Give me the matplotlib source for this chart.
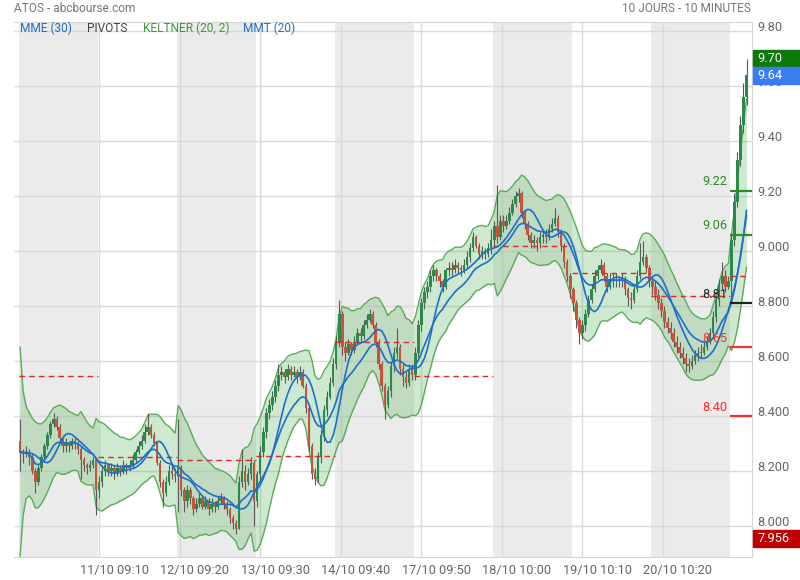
import numpy as np
import pandas as pd
import matplotlib
matplotlib.use("Agg")
import matplotlib.pyplot as plt
from matplotlib.patches import Rectangle
from matplotlib.transforms import blended_transform_factory, ScaledTranslation

plt.rcParams['font.family'] = ['Roboto', 'DejaVu Sans']

# bougies de 20 minutes, une liste par jour
first_open = 8.31
close_days = [
    [8.27, 8.26, 8.27, 8.25, 8.20, 8.16, 8.21, 8.25, 8.29, 8.33, 8.37, 8.39, 8.36, 8.32, 8.29, 8.30, 8.29, 8.31, 8.30, 8.28, 8.24, 8.22, 8.21, 8.22, 8.24, 8.13],
    [8.16, 8.20, 8.22, 8.20, 8.21, 8.19, 8.21, 8.20, 8.22, 8.21, 8.22, 8.24, 8.27, 8.29, 8.31, 8.34, 8.36, 8.33, 8.30, 8.23, 8.16, 8.12, 8.16, 8.20, 8.19, 8.18],
    [8.21, 8.13, 8.09, 8.13, 8.10, 8.06, 8.08, 8.10, 8.07, 8.09, 8.06, 8.08, 8.07, 8.09, 8.10, 8.08, 8.06, 8.03, 8.01, 7.99, 8.16, 8.20, 8.16, 8.19, 8.23, 8.09],
    [8.19, 8.27, 8.34, 8.41, 8.44, 8.47, 8.51, 8.55, 8.56, 8.54, 8.57, 8.55, 8.56, 8.54, 8.56, 8.51, 8.43, 8.29, 8.19, 8.17, 8.25, 8.33, 8.42, 8.47, 8.52, 8.59],
    [8.67, 8.77, 8.65, 8.63, 8.66, 8.64, 8.67, 8.70, 8.69, 8.73, 8.75, 8.77, 8.73, 8.67, 8.59, 8.51, 8.44, 8.49, 8.58, 8.63, 8.65, 8.57, 8.54, 8.52, 8.57, 8.55],
    [8.63, 8.73, 8.81, 8.85, 8.87, 8.91, 8.93, 8.91, 8.89, 8.87, 8.93, 8.94, 8.93, 8.95, 8.94, 8.93, 8.95, 8.98, 9.01, 9.05, 9.02, 8.99, 9.00, 8.99, 9.01, 9.04],
    [9.09, 9.05, 9.11, 9.09, 9.11, 9.14, 9.17, 9.20, 9.21, 9.14, 9.10, 9.06, 9.03, 9.04, 9.03, 9.05, 9.06, 9.05, 9.08, 9.10, 9.12, 9.07, 9.02, 8.96, 8.91, 8.86],
    [8.81, 8.75, 8.70, 8.73, 8.77, 8.82, 8.86, 8.91, 8.93, 8.95, 8.91, 8.87, 8.90, 8.89, 8.90, 8.89, 8.90, 8.86, 8.83, 8.82, 8.86, 8.91, 8.96, 8.98, 8.94, 8.89],
    [8.87, 8.84, 8.81, 8.78, 8.74, 8.72, 8.70, 8.67, 8.65, 8.63, 8.61, 8.59, 8.58, 8.60, 8.62, 8.63, 8.63, 8.65, 8.67, 8.70, 8.76, 8.82, 8.88, 8.91, 8.87, 8.89],
    [9.04, 9.18, 9.33, 9.46, 9.56, 9.64],
]
high_days = [
    [8.39, 8.28, 8.29, 8.28, 8.26, 8.21, 8.22, 8.26, 8.30, 8.34, 8.38, 8.41, 8.40, 8.37, 8.33, 8.32, 8.31, 8.32, 8.32, 8.31, 8.29, 8.25, 8.23, 8.24, 8.25, 8.25],
    [8.18, 8.22, 8.24, 8.23, 8.23, 8.22, 8.23, 8.22, 8.24, 8.23, 8.24, 8.26, 8.28, 8.31, 8.33, 8.37, 8.41, 8.37, 8.34, 8.31, 8.24, 8.17, 8.18, 8.22, 8.22, 8.21],
    [8.39, 8.22, 8.14, 8.15, 8.14, 8.11, 8.10, 8.12, 8.11, 8.11, 8.10, 8.10, 8.09, 8.11, 8.12, 8.11, 8.09, 8.07, 8.04, 8.02, 8.18, 8.28, 8.22, 8.21, 8.25, 8.24],
    [8.20, 8.29, 8.36, 8.43, 8.46, 8.49, 8.53, 8.59, 8.58, 8.57, 8.59, 8.58, 8.58, 8.57, 8.58, 8.57, 8.52, 8.44, 8.30, 8.21, 8.27, 8.35, 8.44, 8.49, 8.54, 8.61],
    [8.69, 8.82, 8.78, 8.67, 8.68, 8.67, 8.69, 8.72, 8.72, 8.75, 8.77, 8.79, 8.78, 8.74, 8.68, 8.60, 8.52, 8.51, 8.60, 8.65, 8.72, 8.66, 8.59, 8.56, 8.59, 8.59],
    [8.65, 8.75, 8.83, 8.87, 8.89, 8.93, 8.95, 8.94, 8.92, 8.90, 8.94, 8.96, 8.96, 8.97, 8.96, 8.95, 8.97, 9.00, 9.03, 9.07, 9.06, 9.03, 9.02, 9.01, 9.03, 9.08],
    [9.11, 9.24, 9.13, 9.13, 9.13, 9.16, 9.19, 9.22, 9.23, 9.22, 9.15, 9.11, 9.07, 9.06, 9.05, 9.07, 9.08, 9.08, 9.10, 9.12, 9.155, 9.13, 9.08, 9.03, 8.97, 8.92],
    [8.87, 8.82, 8.76, 8.75, 8.79, 8.84, 8.88, 8.93, 8.95, 8.97, 8.96, 8.92, 8.92, 8.92, 8.92, 8.91, 8.92, 8.91, 8.87, 8.85, 8.88, 8.93, 9.03, 9.035, 8.99, 8.95],
    [8.91, 8.89, 8.86, 8.83, 8.80, 8.76, 8.74, 8.72, 8.69, 8.67, 8.65, 8.63, 8.61, 8.62, 8.64, 8.65, 8.66, 8.67, 8.69, 8.72, 8.78, 8.84, 8.90, 8.96, 8.93, 8.91],
    [9.06, 9.21, 9.36, 9.49, 9.61, 9.70],
]
low_days = [
    [8.20, 8.23, 8.25, 8.22, 8.19, 8.12, 8.15, 8.20, 8.24, 8.28, 8.32, 8.36, 8.35, 8.30, 8.27, 8.27, 8.27, 8.28, 8.28, 8.26, 8.17, 8.20, 8.19, 8.20, 8.21, 8.04],
    [8.10, 8.14, 8.18, 8.18, 8.18, 8.17, 8.18, 8.18, 8.19, 8.19, 8.20, 8.21, 8.23, 8.26, 8.28, 8.30, 8.33, 8.32, 8.29, 8.22, 8.14, 8.07, 8.11, 8.15, 8.17, 8.16],
    [8.05, 8.11, 8.05, 8.07, 8.08, 8.04, 8.05, 8.07, 8.06, 8.06, 8.04, 8.05, 8.05, 8.06, 8.08, 8.06, 8.04, 8.01, 7.99, 7.97, 7.99, 8.14, 8.13, 8.15, 8.17, 8.00],
    [8.07, 8.17, 8.25, 8.32, 8.39, 8.42, 8.45, 8.49, 8.53, 8.52, 8.53, 8.53, 8.54, 8.52, 8.53, 8.50, 8.41, 8.27, 8.17, 8.15, 8.16, 8.23, 8.31, 8.40, 8.46, 8.51],
    [8.57, 8.65, 8.62, 8.60, 8.62, 8.62, 8.63, 8.66, 8.67, 8.68, 8.72, 8.74, 8.72, 8.65, 8.57, 8.49, 8.39, 8.43, 8.47, 8.56, 8.61, 8.55, 8.51, 8.50, 8.51, 8.53],
    [8.53, 8.61, 8.71, 8.79, 8.83, 8.85, 8.89, 8.89, 8.87, 8.85, 8.86, 8.91, 8.91, 8.92, 8.92, 8.91, 8.92, 8.94, 8.96, 9.00, 9.01, 8.97, 8.97, 8.97, 8.98, 8.99],
    [9.02, 9.03, 9.04, 9.07, 9.08, 9.10, 9.13, 9.16, 9.18, 9.12, 9.08, 9.04, 9.01, 9.01, 9.00, 9.01, 9.03, 9.03, 9.04, 9.07, 9.09, 9.05, 9.00, 8.94, 8.89, 8.83],
    [8.78, 8.72, 8.66, 8.68, 8.71, 8.76, 8.81, 8.85, 8.90, 8.92, 8.89, 8.85, 8.86, 8.87, 8.87, 8.87, 8.87, 8.84, 8.80, 8.79, 8.81, 8.85, 8.90, 8.95, 8.92, 8.87],
    [8.84, 8.82, 8.79, 8.76, 8.72, 8.70, 8.68, 8.65, 8.63, 8.61, 8.59, 8.56, 8.56, 8.57, 8.59, 8.60, 8.61, 8.62, 8.64, 8.66, 8.68, 8.74, 8.80, 8.86, 8.85, 8.86],
    [8.82, 9.02, 9.16, 9.31, 9.43, 9.53],
]

tick_labels = ["11/10 09:10", "12/10 09:20", "13/10 09:30", "14/10 09:40",
               "17/10 09:50", "18/10 10:00", "19/10 10:10", "20/10 10:20"]
y_ticks = [8.0, 8.2, 8.4, 8.6, 8.8, 9.0, 9.2, 9.4, 9.6, 9.8]
y_tick_labels = ["8.000", "8.200", "8.400", "8.600", "8.800", "9.000", "9.20", "9.40", "9.60", "9.80"]

# pivot du jour (trait rouge pointillé)
pivot_daily = [8.545, 8.25, 8.24, 8.255, 8.67, 8.545, 9.02, 8.92, 8.835, 8.91]
# pivots du dernier jour
pivot_levels = [9.22, 9.06, 8.81, 8.65, 8.40]
pivot_colors = ["#2e8b22", "#2e8b22", "#222222", "#e53935", "#ff2a2a"]
# étiquettes à droite
box_vals = [9.70, 9.64, 7.956]
box_colors = ["#0b7a0b", "#3a7df2", "#c00000"]

per_day = 26
close = np.concatenate(close_days)
high = np.concatenate(high_days)
low = np.concatenate(low_days)
opn = np.concatenate([[first_open], close[:-1]])
x = np.arange(len(close))

c = pd.Series(close)
mme = c.ewm(span=15).mean()
mmt = c.rolling(5, min_periods=1).mean().rolling(6, min_periods=1).mean()
kc_mid = c.ewm(span=10).mean()
prev_c = c.shift(1).fillna(c.iloc[0])
tr = np.maximum(high - low, np.maximum(abs(high - prev_c), abs(low - prev_c)))
atr = pd.Series(tr).ewm(span=10).mean()
kc_up = kc_mid + 2.0 * atr
kc_lo = kc_mid - 2.0 * atr

fig = plt.figure(figsize=(8, 5.8), dpi=100)
ax = fig.add_axes([14 / 800, 23 / 580, 738 / 800, 535 / 580])
ax.set_xlim(-2, 240.8)
ax.set_ylim(7.887, 9.833)

# bandes grises un jour sur deux
for k in range(0, 10, 2):
    ax.axvspan(per_day * k - 0.5, per_day * k + per_day - 0.5, color="#ebebeb", lw=0, zorder=0)

tick_pos = [per_day * k - 0.5 + 0.5 * k for k in range(1, 9)]
ax.set_xticks(tick_pos)
ax.set_yticks(y_ticks)
ax.set_xticklabels([])
ax.set_yticklabels([])
ax.tick_params(length=0)
ax.grid(color="#dadada", lw=1, zorder=0.5)
ax.set_axisbelow(True)
for s in ["top", "right", "bottom"]:
    ax.spines[s].set_color("#d5d5d5")
ax.spines["left"].set_visible(False)

# libellés des axes, décalés comme sur l'original
tr_x = blended_transform_factory(ax.transData, ax.transAxes) + \
    ScaledTranslation(15 / 100, 0, fig.dpi_scale_trans)
for p, t in zip(tick_pos, tick_labels):
    ax.text(p, -0.0243, t, transform=tr_x, ha="center", va="center",
            color="#666666", fontsize=9.2, clip_on=False)
tr_y = blended_transform_factory(ax.transAxes, ax.transData) + \
    ScaledTranslation(5 / 100, 3.5 / 100, fig.dpi_scale_trans)
for v, t in zip(y_ticks, y_tick_labels):
    ax.text(1, v, t, transform=tr_y, ha="left", va="center",
            color="#666666", fontsize=9.2, clip_on=False)

# Keltner
ax.fill_between(x, kc_lo, kc_up, color=(0.30, 0.69, 0.31, 0.27), lw=0, zorder=1)
ax.plot(x, kc_up, color="#5aab5a", lw=1, zorder=2)
ax.plot(x, kc_lo, color="#5aab5a", lw=1, zorder=2)

# pivots quotidiens
for k, p in enumerate(pivot_daily):
    end = min(per_day * k + per_day - 0.5, len(close) - 0.5)
    ax.plot([per_day * k - 0.5, end], [p, p], color="#e02828", lw=1,
            dashes=(4, 3), zorder=3.5)

# bougies
up = close >= opn
col = np.where(up, "#2a8a4e", "#c8523a")
ax.vlines(x, low, high, color="#5a5a5a", lw=0.8, zorder=2.8)
body = np.maximum(np.abs(close - opn), 0.004)
ax.bar(x, body, bottom=np.minimum(close, opn), width=0.85, color=col, lw=0, zorder=3)

# moyennes mobiles
ax.plot(x, mme, color="#1e6fc8", lw=1.2, zorder=4)
ax.plot(x, mmt, color="#1e6fc8", lw=1.2, zorder=4)

# pivots du dernier jour
x_last = per_day * 9 - 0.5
for p, pc in zip(pivot_levels, pivot_colors):
    ax.plot([x_last, 240.8], [p, p], color=pc, lw=1.6, zorder=5, solid_capstyle="butt")
    ax.annotate(f"{p:.2f}", xy=(x_last - 0.8, p), xytext=(0, 1.5), textcoords="offset points",
                ha="right", va="bottom", color=pc, fontsize=9.2, zorder=6)

# étiquettes colorées à droite
tr_box = blended_transform_factory(fig.transFigure, ax.transData)
h_box = 17 / 275
for v, bc in zip(box_vals, box_colors):
    ax.add_patch(Rectangle((753 / 800, v - h_box / 2), 47 / 800, h_box, transform=tr_box,
                           color=bc, clip_on=False, zorder=10))
    txt = f"{v:.3f}" if v < 8 else f"{v:.2f}"
    ax.text(757 / 800, v, txt, transform=tr_box, color="white", fontsize=9.2,
            va="center", ha="left", zorder=11, clip_on=False)

# textes en haut
fig.text(14 / 800, 1 - 8 / 580, "ATOS - abcbourse.com", color="#777777", fontsize=8.6, va="center")
fig.text(751 / 800, 1 - 8 / 580, "10 JOURS - 10 MINUTES", color="#777777", fontsize=8.6,
         va="center", ha="right")
legend = [("MME (30)", "#1e6fc8", 20), ("PIVOTS", "#444444", 87),
          ("KELTNER (20, 2)", "#3c9a3c", 143), ("MMT (20)", "#1e6fc8", 243)]
for t, tc, px in legend:
    fig.text(px / 800, 1 - 28 / 580, t, color=tc, fontsize=8.6, va="center")

fig.savefig("out.png", dpi=100)
